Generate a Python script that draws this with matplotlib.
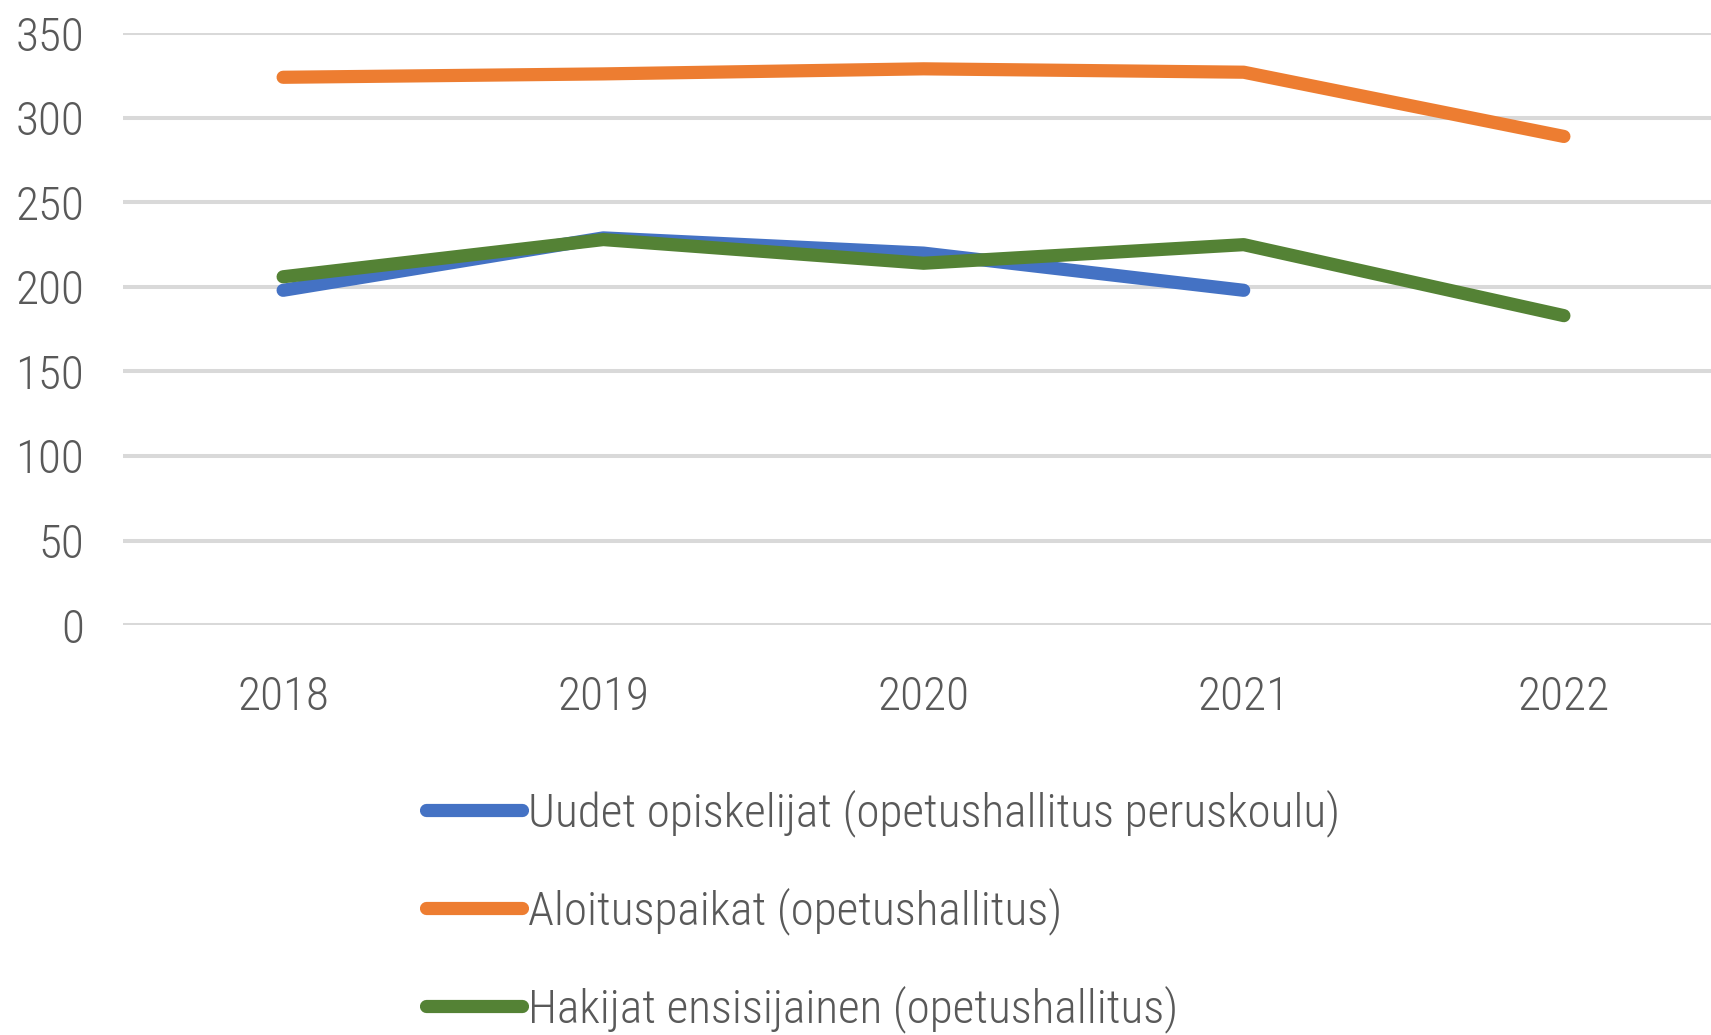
import matplotlib
matplotlib.use('Agg')
import matplotlib.pyplot as plt
from matplotlib import font_manager
from matplotlib.lines import Line2D

years = ['2018', '2019', '2020', '2021', '2022']
uudet = [198, 229, 220, 198, None]
aloituspaikat = [324, 326, 329, 327, 289]
hakijat = [206, 228, 214, 225, 183]
labels = ['Uudet opiskelijat (opetushallitus peruskoulu)',
          'Aloituspaikat (opetushallitus)',
          'Hakijat ensisijainen (opetushallitus)']
colors = ['#4472C4', '#ED7D31', '#548235']
text_color = '#595959'

# narrow font, closest to the squeezed Calibri look
names = {f.name for f in font_manager.fontManager.ttflist}
font = 'DejaVu Sans'
for cand in ['Roboto Condensed', 'Fira Sans Condensed', 'PT Sans Narrow',
             'Open Sans Condensed', 'Archivo Narrow', 'Asap Condensed']:
    if cand in names:
        font = cand
        break
plt.rcParams['font.family'] = [font, 'DejaVu Sans']
plt.rcParams['font.weight'] = 300

fig = plt.figure(figsize=(17.11, 10.35), dpi=100)

# size the text so the long legend label is as wide as in the picture (~816 px)
renderer = fig.canvas.get_renderer()
probe = fig.text(0, 0, labels[0], fontsize=30)
w = probe.get_window_extent(renderer).width
probe.remove()
fs = min(34, 30 * 816 / w)

ax = fig.add_axes([0.0719, 0.3961, 0.9357, 0.5717])

x = list(range(len(years)))
for ys, c, lab in zip([uudet, aloituspaikat, hakijat], colors, labels):
    xs = [xi for xi, v in zip(x, ys) if v is not None]
    vs = [v for v in ys if v is not None]
    ax.plot(xs, vs, color=c, lw=9.5, solid_capstyle='round', solid_joinstyle='round', label=lab)

ax.set_xlim(-0.5, 4.5)
ax.set_ylim(0, 350)
ax.set_yticks(range(0, 351, 50))
ax.set_xticks(x)
ax.set_xticklabels(years)
ax.grid(axis='y', color='#d9d9d9', lw=2.9)
ax.set_axisbelow(True)
for s in ax.spines.values():
    s.set_visible(False)
ax.tick_params(length=0, labelsize=fs, colors=text_color)
ax.tick_params(axis='y', pad=28)
ax.tick_params(axis='x', pad=36)

# one legend row per series, stacked like the Excel legend
row_y = [1 - 813 / 1035, 1 - 911 / 1035, 1 - 1009 / 1035]
for c, lab, yy in zip(colors, labels, row_y):
    h = Line2D([], [], color=c, lw=9.5, solid_capstyle='round')
    leg = fig.legend(handles=[h], labels=[lab], loc='center left', bbox_to_anchor=(426 / 1711, yy),
                     frameon=False, fontsize=fs, handlelength=96 / (fs * 100 / 72),
                     handletextpad=0.12, borderaxespad=0, borderpad=0)
    for t in leg.get_texts():
        t.set_color(text_color)

fig.savefig('out.png', dpi=100)
